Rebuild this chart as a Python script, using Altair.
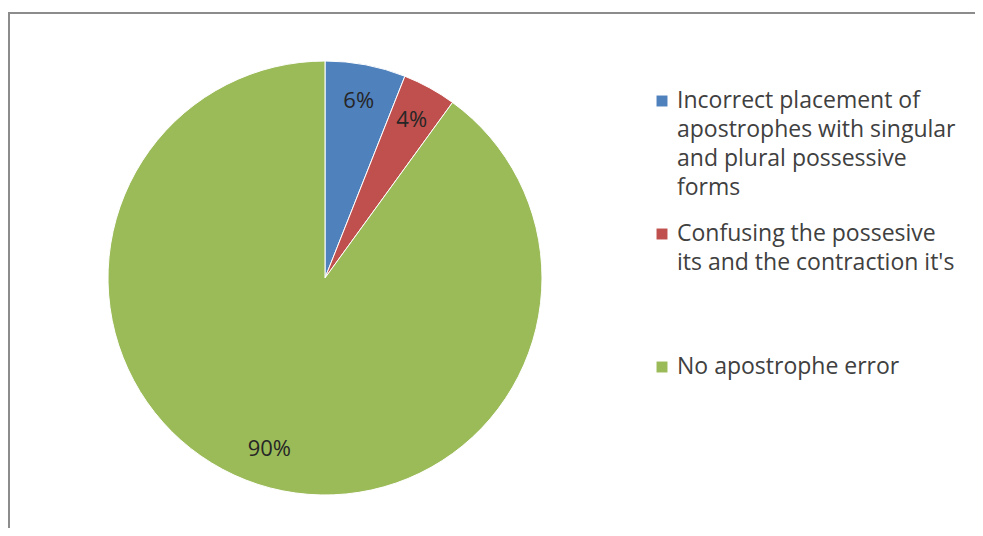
import altair as alt
import pandas as pd

categories = [
    "Incorrect placement of apostrophes with singular and plural possessive forms",
    "Confusing the possesive its and the contraction it's",
    "No apostrophe error",
]
values = [6, 4, 90]
pct_labels = ["6%", "4%", "90%"]
legend_lines = [
    ["Incorrect placement of", "apostrophes with singular", "and plural possessive", "forms"],
    ["Confusing the possesive", "its and the contraction it's"],
    ["No apostrophe error"],
]
colors = ["#4F81BD", "#C0504D", "#9BBB59"]

df = pd.DataFrame({
    "cat": categories,
    "value": values,
    "pct": pct_labels,
    "idx": list(range(len(categories))),
    "legend": ["\n".join(l) for l in legend_lines],
})

W, H = 967, 520
CX, CY = 317, 270
R = 217
FONT = "Open Sans"
TXT = "#404040"

color = alt.Color("cat:N", scale=alt.Scale(domain=categories, range=colors), legend=None)
base = alt.Chart(df)

pie = base.mark_arc(radius=R, stroke="white", strokeWidth=1).encode(
    theta=alt.Theta("value:Q", stack=True),
    color=color,
    order=alt.Order("idx:Q"),
    x=alt.value(CX), y=alt.value(CY),
)

labels = base.mark_text(radius=180, fontSize=22, font=FONT, color="#262626").encode(
    theta=alt.Theta("value:Q", stack=True),
    text="pct:N",
    order=alt.Order("idx:Q"),
    x=alt.value(CX), y=alt.value(CY),
)

yleg = alt.Y("cat:N", sort=categories,
             scale=alt.Scale(type="point", domain=categories, range=[93, 359], padding=0),
             axis=None)

leg_sym = base.mark_square(size=120, opacity=1).encode(
    x=alt.value(654), y=yleg, color=color,
)
leg_txt = base.mark_text(align="left", baseline="middle", fontSize=23, font=FONT,
                         color=TXT, lineBreak="\n", lineHeight=29).encode(
    x=alt.value(669), y=yleg, text="legend:N",
)

frame_df = pd.DataFrame({"k": [0]})
top_rule = alt.Chart(frame_df).mark_rule(color="#8c8c8c", strokeWidth=2).encode(
    x=alt.value(0), x2=alt.value(W), y=alt.value(5))
left_rule = alt.Chart(frame_df).mark_rule(color="#8c8c8c", strokeWidth=2).encode(
    x=alt.value(1), y=alt.value(5), y2=alt.value(H))

chart = alt.layer(top_rule, left_rule, pie, labels, leg_sym, leg_txt).properties(
    width=W, height=H, autosize=alt.AutoSizeParams(type="none"), padding=0,
).configure_view(stroke=None)

chart.save("out.html", embed_options={"renderer": "svg", "actions": False})
